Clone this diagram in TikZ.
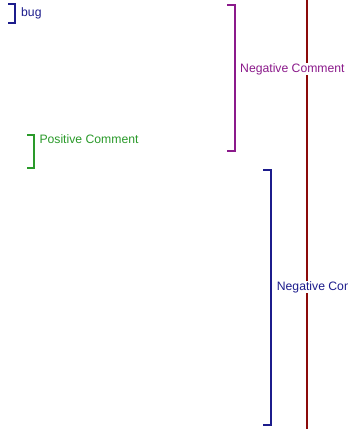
\documentclass[tikz,border=0pt]{standalone}
\usepackage{fontspec}
\setmainfont{Liberation Sans}
\definecolor{navyc}{HTML}{1C1C8C}
\definecolor{purplec}{HTML}{8B1A8B}
\definecolor{greenc}{HTML}{2A9A2A}
\definecolor{redc}{HTML}{8B0A0A}
\begin{document}
\begin{tikzpicture}[x=1pt,y=-1pt,
  lbl/.style={anchor=base west,fill=white,inner sep=0.5pt,font=\fontsize{12.2}{14}\selectfont},
  brk/.style={line width=1.4pt}]
\useasboundingbox (0,0) rectangle (348,429);
\clip (0,0) rectangle (348,429);
\fill[white] (0,0) rectangle (348,429);
\coordinate (lt) at (307,0);
\coordinate (lb) at (307,429);
\draw[redc,line width=1.4pt] (lt) -- (lb);
% bug
\draw[brk,navyc] (8,4) -- (15,4) -- (15,23) -- (8,23);
\node[lbl,text=navyc] (bug) at (20.5,16.5) {bug};
% negative comment 1
\draw[brk,purplec] (227,5) -- (235,5) -- (235,151) -- (227,151);
\node[lbl,text=purplec] (neg1) at (239.5,72) {Negative Comment};
% positive comment
\draw[brk,greenc] (27,135) -- (34,135) -- (34,168) -- (27,168);
\node[lbl,text=greenc] (pos) at (38.8,143.5) {Positive Comment};
% negative comment 2
\draw[brk,navyc] (263,170) -- (271,170) -- (271,425) -- (263,425);
\node[lbl,text=navyc] (neg2) at (276.2,290) {Negative Comment};
\end{tikzpicture}
\end{document}
